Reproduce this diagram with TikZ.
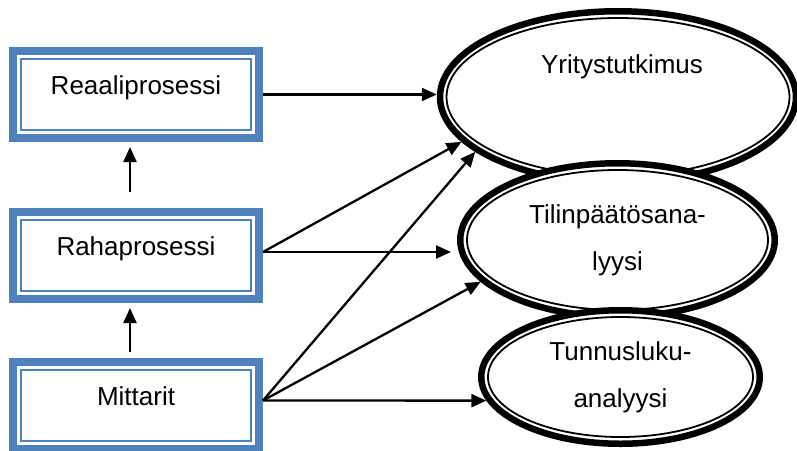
\documentclass[tikz,border=0pt]{standalone}
\usepackage{fontspec}
\setmainfont{Liberation Sans}
\usepackage{xcolor}
\usetikzlibrary{arrows.meta, positioning, shapes.geometric}
\definecolor{boxblue}{HTML}{4F81BD}

\begin{document}
\begin{tikzpicture}[
      x=1pt, y=-1pt,
      font=\fontsize{26}{47}\selectfont,
      box/.style={draw=boxblue, line width=8pt, fill=white,
        minimum width=246pt, minimum height=87pt,
        text height=19pt, text depth=19pt},
      boxline/.style={draw=boxblue, line width=2pt},
      oval/.style={ellipse, draw, line width=6.5pt, fill=white, align=center},
      ring/.style={draw, line width=1.8pt},
      arr/.style={-{Triangle[length=15pt, width=13pt]}, line width=2.3pt}
    ]
    \useasboundingbox (0,0) rectangle (797,450);

    % left column
    \node[box] (reaali) at (136,94.5) {Reaaliprosessi};
    \node[box, below=66pt of reaali] (raha) {Rahaprosessi};
    \node[box, below=55pt of raha] (mitt) {Mittarit};
    \foreach \b in {reaali, raha, mitt}
      \draw[boxline] ([shift={(12pt,12pt)}]\b.south west)
        rectangle ([shift={(-12pt,-12pt)}]\b.north east);
    \coordinate (rahaout) at ([yshift=3.5pt]raha.east);
    \coordinate (mittout) at ([yshift=5pt]mitt.east);

    % right column
    \node[oval, minimum width=356pt, minimum height=171.5pt,
      label={[xshift=4pt, yshift=30pt]center:Yritystutkimus}] (yrit) at (618,97) {};
    \draw[ring] (yrit.center) ellipse (171.5pt and 79pt);
    \node[oval, minimum width=314.5pt, minimum height=153.5pt] (tili) at (617.5,240)
      {Tilinpäätösana-\\lyysi};
    \draw[ring] (tili.center) ellipse (150.5pt and 70pt);
    \node[oval, minimum width=278.5pt, minimum height=133.5pt] (tunn) at (620.5,377)
      {Tunnusluku-\\analyysi};
    \draw[ring] (tunn.center) ellipse (132.5pt and 60pt);

    \draw[arr] (reaali.east) -- (reaali.east -| yrit.west);
    \draw[arr] (rahaout) -- (yrit.196);
    \draw[arr, shorten >=6pt] (rahaout) -- (rahaout -| tili.west);
    \draw[arr] (mittout) -- (yrit.201);
    \draw[arr] (mittout) -- (tili.197);
    \draw[arr] (mittout) -- (tunn.190);
    \draw[arr, shorten <=16pt, shorten >=5pt] ([xshift=-6pt]raha.north) -- ([xshift=-6pt]reaali.south);
    \draw[arr, shorten <=6pt, shorten >=5pt] ([xshift=-6pt]mitt.north) -- ([xshift=-6pt]raha.south);
  \end{tikzpicture}
\end{document}
